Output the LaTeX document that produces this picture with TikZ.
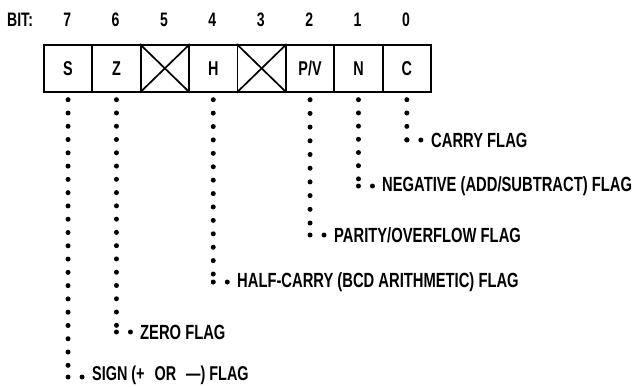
\documentclass[tikz,border=0pt]{standalone}
\usepackage{fontspec}
\setmainfont{Liberation Sans}[FakeStretch=0.72]
\usetikzlibrary{calc}
\begin{document}
\begin{tikzpicture}[x=1pt,y=-1pt,
  cell/.style={draw,line width=1.7pt,minimum width=48.4pt,minimum height=47pt,inner sep=0pt,anchor=north west,font=\fontsize{20}{20}\selectfont\bfseries},
  bitnum/.style={font=\fontsize{19.5}{19.5}\selectfont\bfseries,inner sep=0pt},
  lbl/.style={font=\fontsize{20.5}{20.5}\selectfont\bfseries,anchor=west,inner sep=0pt},
  dotline/.style={line width=5pt,line cap=round,dash pattern=on 0pt off #1},
  dot/.style={circle,fill,inner sep=0pt,minimum size=5pt}]
\useasboundingbox (0,0) rectangle (634,386);
% bit numbers
\node[bitnum,anchor=west] (bit) at (7,20) {BIT:};
\foreach \b [count=\i from 0] in {7,6,5,4,3,2,1,0}{
  \node[bitnum] (b\b) at (67.2+48.4*\i,20) {\b};
}
% cells
\node[cell] (S) at (43,44) {S};
\node[cell] (Z) at (91.4,44) {Z};
\node[cell] (X5) at (139.8,44) {};
\node[cell] (H) at (188.2,44) {H};
\node[cell] (X3) at (236.6,44) {};
\node[cell] (PV) at (285,44) {P/V};
\node[cell] (N) at (333.4,44) {N};
\node[cell] (C) at (381.8,44) {C};
\draw[line width=1.7pt] (X5.north west) -- (X5.south east) (X5.north east) -- (X5.south west);
\draw[line width=1.7pt] (X3.north west) -- (X3.south east) (X3.north east) -- (X3.south west);
% labels
\node[lbl] (lC) at (431,140) {CARRY FLAG};
\node[lbl] (lN) at (382,186) {NEGATIVE (ADD/SUBTRACT) FLAG};
\node[lbl] (lP) at (334,235) {PARITY/OVERFLOW FLAG};
\node[lbl] (lH) at (237,282) {HALF-CARRY (BCD ARITHMETIC) FLAG};
\node[lbl] (lZ) at (140,332) {ZERO FLAG};
\node[lbl,font=\fontsize{20}{20}\selectfont\bfseries] (lS) at (92,375.5) {SIGN (+\enspace OR\enspace —) FLAG};
% corners
\coordinate (cC) at (C.south |- 0,140);
\coordinate (cN) at (N.south |- 0,186);
\coordinate (cP) at (PV.south |- 0,235);
\coordinate (cH) at (H.south |- 0,282);
\coordinate (cZ) at (Z.south |- 0,332);
\coordinate (cS) at (S.south |- 0,377);
% dotted leaders
\draw[dotline=13.33pt] ([yshift=-7pt]C.south) -- (cC);
\draw[dotline=13.2pt] ([yshift=-7pt]N.south) -- (cN);
\draw[dotline=13.7pt] ([yshift=-7pt]PV.south) -- (cP);
\draw[dotline=13.41pt] ([yshift=-7pt]H.south) -- (cH);
\draw[dotline=13.27pt] ([yshift=-7pt]Z.south) -- (cZ);
\draw[dotline=13.28pt] ([yshift=-7pt]S.south) -- (cS);
\foreach \c/\l in {cC/lC,cN/lN,cP/lP,cH/lH,cZ/lZ,cS/lS}{
  \node[dot] at (\c) {};
  \node[dot] at ($(\c)+(14,0)$) {};
}
\end{tikzpicture}
\end{document}
